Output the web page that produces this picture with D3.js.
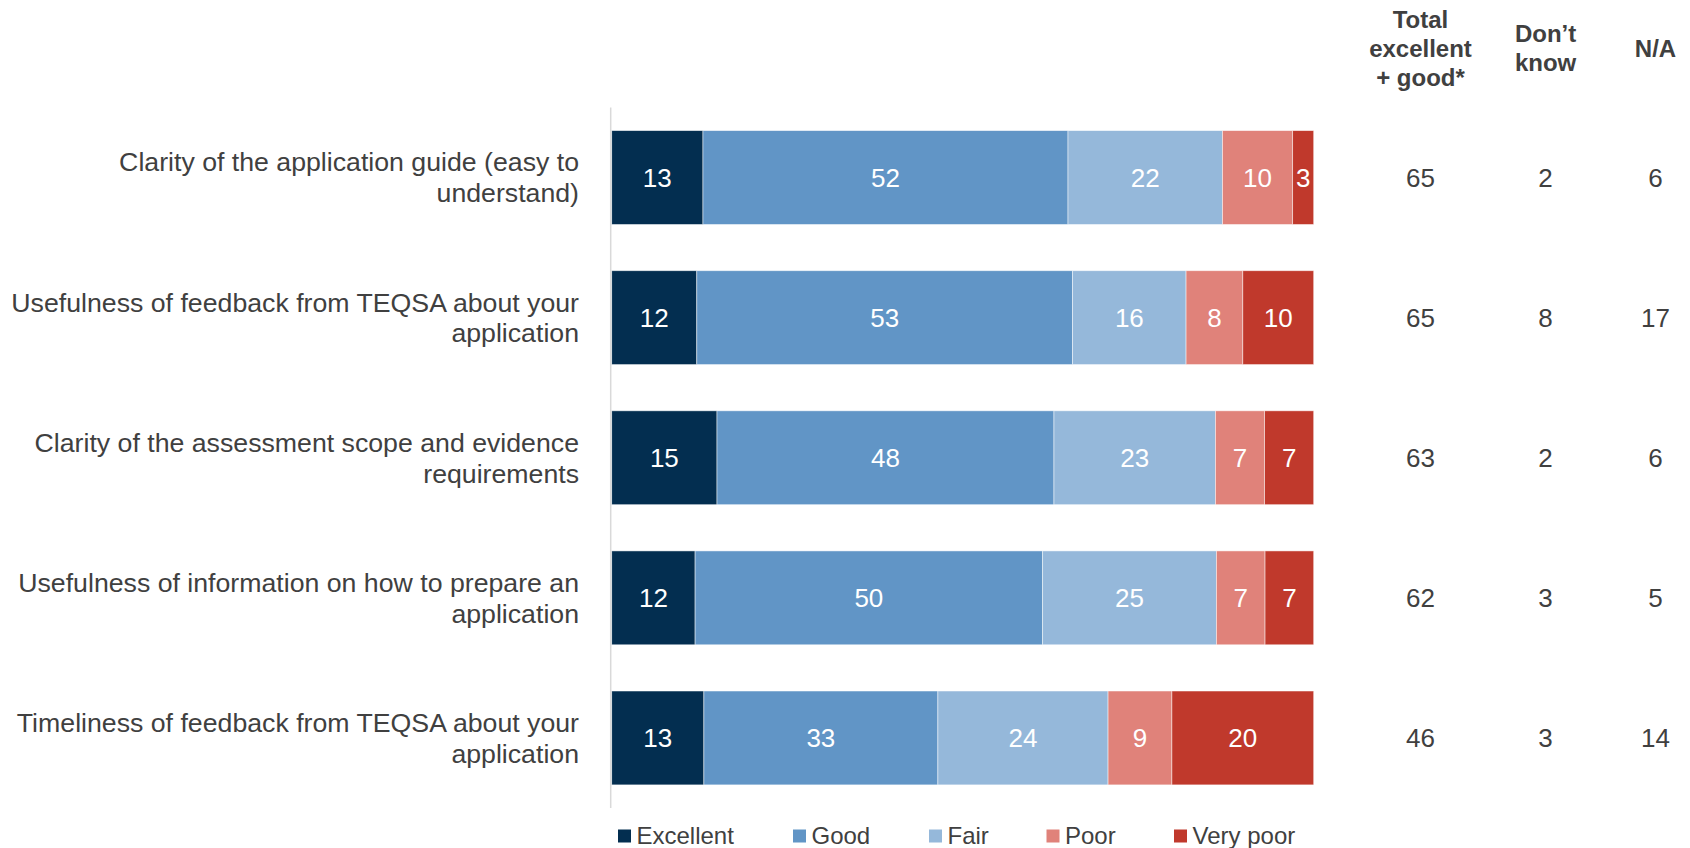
<!DOCTYPE html>
<html>
<head>
<meta charset="utf-8">
<script src="https://cdn.jsdelivr.net/npm/d3@7"></script>
<style>
  html, body { margin: 0; padding: 0; background: #ffffff; }
  svg { display: block; font-family: "Liberation Sans", Arial, sans-serif; }
</style>
</head>
<body>
<svg id="chart" width="1690" height="848"></svg>
<script>
// Survey items (each drawn on two lines)
const categories = [
  ["Clarity of the application guide (easy to", "understand)"],
  ["Usefulness of feedback from TEQSA about your", "application"],
  ["Clarity of the assessment scope and evidence", "requirements"],
  ["Usefulness of information on how to prepare an", "application"],
  ["Timeliness of feedback from TEQSA about your", "application"]
];

const seriesNames = ["Excellent", "Good", "Fair", "Poor", "Very poor"];
const seriesColors = ["#032e50", "#6195c6", "#95b8da", "#e0827a", "#c0392c"];

// Percentages per rating, one array per rating, in item order
const excellent = [13, 12, 15, 12, 13];
const good      = [52, 53, 48, 50, 33];
const fair      = [22, 16, 23, 25, 24];
const poor      = [10, 8, 7, 7, 9];
const veryPoor  = [3, 10, 7, 7, 20];

// Side columns
const totalExcellentGood = [65, 65, 63, 62, 46];
const dontKnow = [2, 8, 2, 3, 3];
const notApplicable = [6, 17, 6, 5, 14];

const columnHeaders = [
  ["Total", "excellent", "+ good*"],
  ["Don\u2019t", "know"],
  ["N/A"]
];

const seriesValues = [excellent, good, fair, poor, veryPoor];
const rows = categories.map((c, i) => {
  const r = { key: i };
  seriesNames.forEach((s, j) => { r[s] = seriesValues[j][i]; });
  return r;
});

const svg = d3.select("#chart");
const textColor = "#404040";

const x = d3.scaleLinear().domain([0, 1]).range([611.7, 1313.7]);
const y = d3.scaleBand()
  .domain(d3.range(categories.length))
  .range([107.5, 808])
  .paddingInner(0.33)
  .paddingOuter(0.165);

const stack = d3.stack().keys(seriesNames).offset(d3.stackOffsetExpand);
const layers = stack(rows);

// Stacked bars
const layerG = svg.append("g").selectAll("g")
  .data(layers)
  .join("g")
  .attr("fill", (d, i) => seriesColors[i]);

layerG.selectAll("rect")
  .data(d => d)
  .join("rect")
  .attr("x", d => x(d[0]))
  .attr("y", (d, i) => y(i))
  .attr("width", d => x(d[1]) - x(d[0]))
  .attr("height", y.bandwidth())
  .attr("stroke", "#ffffff")
  .attr("stroke-width", 0.8)
  .attr("stroke-opacity", 0.6);

// Value labels inside segments
layers.forEach((layer, li) => {
  svg.append("g").selectAll("text")
    .data(layer)
    .join("text")
    .attr("x", d => (x(d[0]) + x(d[1])) / 2)
    .attr("y", (d, i) => y(i) + y.bandwidth() / 2)
    .attr("dy", "0.35em")
    .attr("text-anchor", "middle")
    .attr("fill", "#ffffff")
    .attr("font-size", 26)
    .text(d => d.data[layer.key]);
});

// Vertical category axis line
svg.append("line")
  .attr("x1", 610.7).attr("x2", 610.7)
  .attr("y1", y.range()[0]).attr("y2", y.range()[1])
  .attr("stroke", "#d9d9d9")
  .attr("stroke-width", 1.5);

// Category labels, right aligned
const labelG = svg.append("g").selectAll("text")
  .data(categories)
  .join("text")
  .attr("text-anchor", "end")
  .attr("fill", textColor)
  .attr("font-size", 26.7)
  .attr("transform", (d, i) => `translate(579, ${y(i) + y.bandwidth() / 2})`);

labelG.selectAll("tspan")
  .data(d => d)
  .join("tspan")
  .attr("x", 0)
  .attr("y", (d, i, n) => (i - (n.length - 1) / 2) * 31)
  .attr("dy", "0.35em")
  .text(d => d);

// Side columns
const colX = [1420.5, 1545.6, 1655.5];
const colData = [totalExcellentGood, dontKnow, notApplicable];

colData.forEach((vals, ci) => {
  svg.append("g").selectAll("text")
    .data(vals)
    .join("text")
    .attr("x", colX[ci])
    .attr("y", (d, i) => y(i) + y.bandwidth() / 2)
    .attr("dy", "0.35em")
    .attr("text-anchor", "middle")
    .attr("fill", textColor)
    .attr("font-size", 26)
    .text(d => d);

  const lines = columnHeaders[ci];
  svg.append("g").selectAll("text")
    .data(lines)
    .join("text")
    .attr("x", colX[ci])
    .attr("y", (d, i) => 48.5 + (i - (lines.length - 1) / 2) * 29.1)
    .attr("dy", "0.35em")
    .attr("text-anchor", "middle")
    .attr("fill", textColor)
    .attr("font-size", 24)
    .attr("font-weight", "bold")
    .text(d => d);
});

// Legend
const legendX = [618, 793, 929, 1046.5, 1174];
const legend = svg.append("g").selectAll("g")
  .data(seriesNames)
  .join("g")
  .attr("transform", (d, i) => `translate(${legendX[i]}, 836)`);

legend.append("rect")
  .attr("x", 0).attr("y", -6.5)
  .attr("width", 13).attr("height", 13)
  .attr("fill", (d, i) => seriesColors[i]);

legend.append("text")
  .attr("x", 18.5)
  .attr("dy", "0.35em")
  .attr("fill", textColor)
  .attr("font-size", 24)
  .text(d => d);
</script>
</body>
</html>
